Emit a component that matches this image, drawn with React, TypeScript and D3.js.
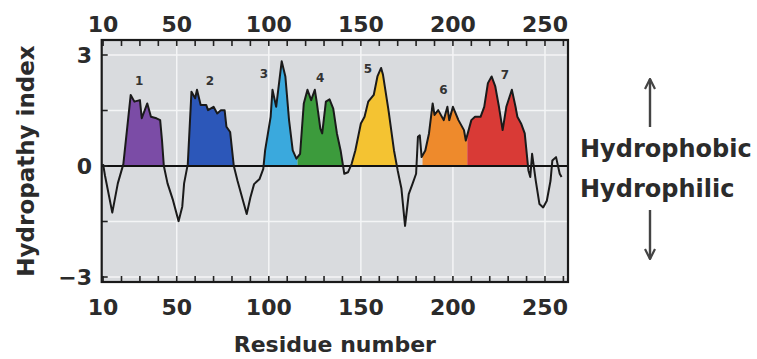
import * as d3 from 'd3';
import React, { useRef, useEffect } from 'react';

// hydropathy profile (residue number, index)
const residues = [10, 11, 15, 18, 21, 25, 27, 30, 31, 34, 36, 39, 41, 42, 43, 45, 48, 51, 53, 54, 56, 58, 60, 61, 63, 66, 67, 70, 72, 74, 76, 77, 79, 81, 83, 86, 88, 90, 92, 95, 97, 98, 101, 102, 104, 107, 109, 111, 113, 115, 117, 119, 121, 123, 125, 126, 128, 129, 131, 133, 135, 137, 139, 141, 143, 145, 147, 150, 152, 154, 157, 159, 161, 162, 165, 168, 170, 172, 174, 176, 178, 180, 181, 182, 183, 185, 187, 189, 190, 192, 195, 197, 198, 200, 203, 206, 207, 210, 212, 215, 217, 219, 221, 223, 225, 227, 229, 232, 234, 235, 237, 239, 241, 242, 243, 245, 247, 249, 251, 253, 254, 256, 258, 259];
const hydropathy = [0.05, -0.25, -1.26, -0.47, 0.05, 1.92, 1.74, 1.78, 1.29, 1.69, 1.33, 1.29, 1.24, 0.69, 0.0, -0.47, -0.93, -1.49, -1.1, -0.47, 0.05, 2.01, 1.83, 2.06, 1.65, 1.65, 1.51, 1.6, 1.42, 1.51, 1.51, 1.06, 0.92, 0.0, -0.4, -0.94, -1.3, -0.85, -0.49, -0.35, -0.08, 0.42, 1.33, 2.06, 1.6, 2.83, 2.42, 1.24, 0.42, 0.2, 0.33, 1.69, 2.06, 1.78, 2.06, 1.74, 1.01, 0.88, 1.74, 1.8, 1.55, 0.88, 0.42, -0.21, -0.17, 0.06, 0.42, 1.15, 1.33, 1.74, 1.92, 2.42, 2.65, 2.47, 1.51, 0.42, -0.12, -0.6, -1.62, -0.76, -0.49, -0.21, 0.79, 0.83, 0.24, 0.42, 0.88, 1.69, 1.38, 1.51, 1.24, 1.6, 1.24, 1.6, 1.24, 0.97, 0.69, 1.24, 1.33, 1.33, 1.6, 2.24, 2.42, 2.15, 1.6, 0.97, 1.6, 2.06, 1.6, 1.33, 1.15, 0.88, -0.12, -0.3, 0.33, -0.4, -1.03, -1.12, -0.94, -0.4, 0.15, 0.24, -0.21, -0.3];

// transmembrane segments
const helixNames = ['1', '2', '3', '4', '5', '6', '7'];
const helixStart = [18, 54, 95, 115.6, 143, 183.5, 207.8];
const helixEnd = [45, 82, 115.6, 141, 170, 207.8, 241];
const helixColors = ['#7b4ca6', '#2c57b9', '#3aa9dd', '#3c9b3c', '#f4c332', '#ee8a2c', '#d93a36'];
const labelResidue = [29.6, 68, 97.4, 127.9, 153.9, 194.9, 228.2];
const labelValue = [2.3, 2.3, 2.48, 2.38, 2.62, 2.06, 2.47];

const xTicks = [10, 50, 100, 150, 200, 250];
const xMinorTicks = [10, 20, 30, 40, 50, 60, 70, 80, 90, 100, 110, 120, 130, 140, 150, 160, 170, 180, 190, 200, 210, 220, 230, 240, 250, 260];
const xGrid = [50, 100, 150, 200, 250];
const yTicks = [-3, 0, 3];
const yGrid = [-3, -1.5, 1.5, 3];
const yMinorTicks = [-3, -1.5, 0, 1.5, 3];

const FONT = "'DejaVu Sans', sans-serif";

function HydropathyPlot({ width, height }) {
    const ref = useRef();

    useEffect(() => {
        draw();
    }, []);

    const draw = () => {
        const svg = d3.select(ref.current);
        svg.selectAll("*").remove();

        var left = 101.7, right = 568, top = 40, bottom = 282;

        var x = d3.scaleLinear().domain([20, 260]).range([121.5, 563.4]);
        var y = d3.scaleLinear().domain([3, -3]).range([55, 277]);

        var data = residues.map((r, i) => ({ r: r, v: hydropathy[i] }));

        // plot background
        svg.append("rect")
            .attr("x", left).attr("y", top)
            .attr("width", right - left).attr("height", bottom - top)
            .attr("fill", "#d9dbde");

        // white gridlines
        svg.selectAll(".vgrid").data(xGrid).enter().append("line")
            .attr("class", "vgrid")
            .attr("x1", d => x(d)).attr("x2", d => x(d))
            .attr("y1", top).attr("y2", bottom)
            .attr("stroke", "#f4f5f6").attr("stroke-width", 1.5);
        svg.selectAll(".hgrid").data(yGrid).enter().append("line")
            .attr("class", "hgrid")
            .attr("x1", left).attr("x2", right)
            .attr("y1", d => y(d)).attr("y2", d => y(d))
            .attr("stroke", "#f4f5f6").attr("stroke-width", 1.5);

        // coloured helix fills, clipped to above zero and to each segment
        var defs = svg.append("defs");
        var area = d3.area()
            .x(d => x(d.r))
            .y0(y(0))
            .y1(d => y(d.v));

        helixNames.forEach((name, i) => {
            defs.append("clipPath").attr("id", "clip" + i)
                .append("rect")
                .attr("x", x(helixStart[i])).attr("y", top)
                .attr("width", x(helixEnd[i]) - x(helixStart[i]))
                .attr("height", y(0) - top);
            svg.append("path")
                .datum(data)
                .attr("d", area)
                .attr("fill", helixColors[i])
                .attr("clip-path", "url(#clip" + i + ")");
        });

        // zero line
        svg.append("line")
            .attr("x1", left).attr("x2", right)
            .attr("y1", y(0)).attr("y2", y(0))
            .attr("stroke", "#111").attr("stroke-width", 2);

        // profile line
        var line = d3.line()
            .x(d => x(d.r))
            .y(d => y(d.v));
        svg.append("path")
            .datum(data)
            .attr("d", line)
            .attr("fill", "none")
            .attr("stroke", "#1a1a1a")
            .attr("stroke-width", 2)
            .attr("stroke-linejoin", "round");

        // helix numbers
        svg.selectAll(".hlabel").data(helixNames).enter().append("text")
            .attr("class", "hlabel")
            .attr("x", (d, i) => x(labelResidue[i]))
            .attr("y", (d, i) => y(labelValue[i]))
            .attr("dy", "0.35em")
            .attr("text-anchor", "middle")
            .style("font-family", FONT)
            .style("font-size", "12px")
            .style("font-weight", "bold")
            .style("fill", "#333")
            .text(d => d);

        // inner ticks
        svg.selectAll(".ttick").data(xMinorTicks).enter().append("line")
            .attr("class", "ttick")
            .attr("x1", d => x(d)).attr("x2", d => x(d))
            .attr("y1", top).attr("y2", top + 6)
            .attr("stroke", "#222").attr("stroke-width", 1.6);
        svg.selectAll(".btick").data(xMinorTicks).enter().append("line")
            .attr("class", "btick")
            .attr("x1", d => x(d)).attr("x2", d => x(d))
            .attr("y1", bottom).attr("y2", bottom - 6)
            .attr("stroke", "#222").attr("stroke-width", 1.6);
        svg.selectAll(".ltick").data(yMinorTicks).enter().append("line")
            .attr("class", "ltick")
            .attr("x1", left).attr("x2", left + 6)
            .attr("y1", d => y(d)).attr("y2", d => y(d))
            .attr("stroke", "#222").attr("stroke-width", 1.6);

        // frame
        svg.append("rect")
            .attr("x", left).attr("y", top)
            .attr("width", right - left).attr("height", bottom - top)
            .attr("fill", "none")
            .attr("stroke", "#1a1a1a").attr("stroke-width", 2.2);

        // tick labels
        var tickStyle = sel => sel
            .style("font-family", FONT)
            .style("font-size", "22px")
            .style("font-weight", "bold")
            .style("fill", "#2b2b2b");

        svg.selectAll(".xtop").data(xTicks).enter().append("text")
            .attr("class", "xtop")
            .attr("x", d => x(d)).attr("y", 32)
            .attr("text-anchor", "middle")
            .call(tickStyle)
            .text(d => d);
        svg.selectAll(".xbot").data(xTicks).enter().append("text")
            .attr("class", "xbot")
            .attr("x", d => x(d)).attr("y", 315)
            .attr("text-anchor", "middle")
            .call(tickStyle)
            .text(d => d);
        svg.selectAll(".ylab").data(yTicks).enter().append("text")
            .attr("class", "ylab")
            .attr("x", 92).attr("y", d => y(d))
            .attr("dy", "0.36em")
            .attr("text-anchor", "end")
            .call(tickStyle)
            .text(d => d3.format("")(d));

        // axis titles
        svg.append("text")
            .attr("transform", "translate(34," + ((top + bottom) / 2) + ") rotate(-90)")
            .attr("text-anchor", "middle")
            .call(tickStyle)
            .style("font-size", "23px")
            .text("Hydropathy index");
        svg.append("text")
            .attr("x", (left + right) / 2).attr("y", 352)
            .attr("text-anchor", "middle")
            .call(tickStyle)
            .style("font-size", "22px")
            .text("Residue number");

        // side annotations
        svg.append("text")
            .attr("x", 580).attr("y", 157)
            .call(tickStyle)
            .style("font-size", "24px")
            .text("Hydrophobic");
        svg.append("text")
            .attr("x", 580).attr("y", 197)
            .call(tickStyle)
            .style("font-size", "24px")
            .text("Hydrophilic");

        var arrowColor = "#444";
        defs.append("marker")
            .attr("id", "arrowhead")
            .attr("viewBox", "0 0 12 12")
            .attr("refX", 11).attr("refY", 6)
            .attr("markerWidth", 12).attr("markerHeight", 12)
            .attr("markerUnits", "userSpaceOnUse")
            .attr("orient", "auto")
            .append("path")
            .attr("d", "M1,1 L11,6 L1,11")
            .attr("fill", "none")
            .attr("stroke", arrowColor)
            .attr("stroke-width", 2.2);

        svg.append("line")
            .attr("x1", 650).attr("x2", 650)
            .attr("y1", 127).attr("y2", 79)
            .attr("stroke", arrowColor).attr("stroke-width", 2.4)
            .attr("marker-end", "url(#arrowhead)");
        svg.append("line")
            .attr("x1", 650).attr("x2", 650)
            .attr("y1", 210).attr("y2", 259)
            .attr("stroke", arrowColor).attr("stroke-width", 2.4)
            .attr("marker-end", "url(#arrowhead)");
    };

    return (
        <svg ref={ref} width={width} height={height}
            style={{ position: 'absolute', left: 0, top: 0, background: '#fff' }}>
        </svg>
    );
}

export default function App() {
    return <HydropathyPlot width={757} height={359} />;
}
